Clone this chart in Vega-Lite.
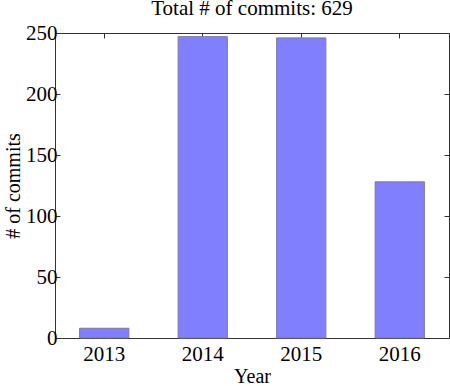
{
  "$schema": "https://vega.github.io/schema/vega-lite/v6.json",
  "autosize": "none",
  "width": 394,
  "height": 305,
  "padding": {"left": 55, "top": 33, "right": 1, "bottom": 48},
  "background": "white",
  "config": {
    "font": "Liberation Serif",
    "view": {"stroke": "#333333", "strokeWidth": 1},
    "axis": {"grid": false, "domain": false, "tickColor": "#333333", "tickSize": -5, "labelFont": "Liberation Serif", "titleFont": "Liberation Serif", "labelFontSize": 21, "titleFontSize": 20, "titleFontWeight": "normal", "labelColor": "black", "titleColor": "black"}
  },
  "title": {"text": "Total # of commits: 629", "font": "Liberation Serif", "fontSize": 21, "fontWeight": "normal", "offset": 3, "color": "black"},
  "data": {"values": [
    {"year": "2013", "commits": 8},
    {"year": "2014", "commits": 247},
    {"year": "2015", "commits": 246},
    {"year": "2016", "commits": 128}
  ]},
  "layer": [
    {
      "mark": {"type": "bar", "fill": "#8080ff", "stroke": "#7a7a9a", "strokeWidth": 1},
      "encoding": {
        "x": {"field": "year", "type": "ordinal", "scale": {"paddingInner": 0.5, "paddingOuter": 0.25},
              "axis": {"title": "Year", "labelAngle": 0, "labelPadding": 10, "titlePadding": 2}},
        "y": {"field": "commits", "type": "quantitative", "scale": {"domain": [0, 250], "nice": false},
              "axis": {"title": "# of commits", "values": [0, 50, 100, 150, 200, 250], "labelPadding": 3, "titlePadding": 2}}
      }
    },
    {
      "mark": {"type": "bar", "opacity": 0},
      "encoding": {
        "x": {"field": "year", "type": "ordinal", "axis": {"orient": "top", "labels": false, "title": null}},
        "y": {"field": "commits", "type": "quantitative", "axis": {"orient": "right", "labels": false, "title": null, "values": [0, 50, 100, 150, 200, 250]}}
      }
    }
  ],
  "resolve": {"axis": {"x": "independent", "y": "independent"}}
}
